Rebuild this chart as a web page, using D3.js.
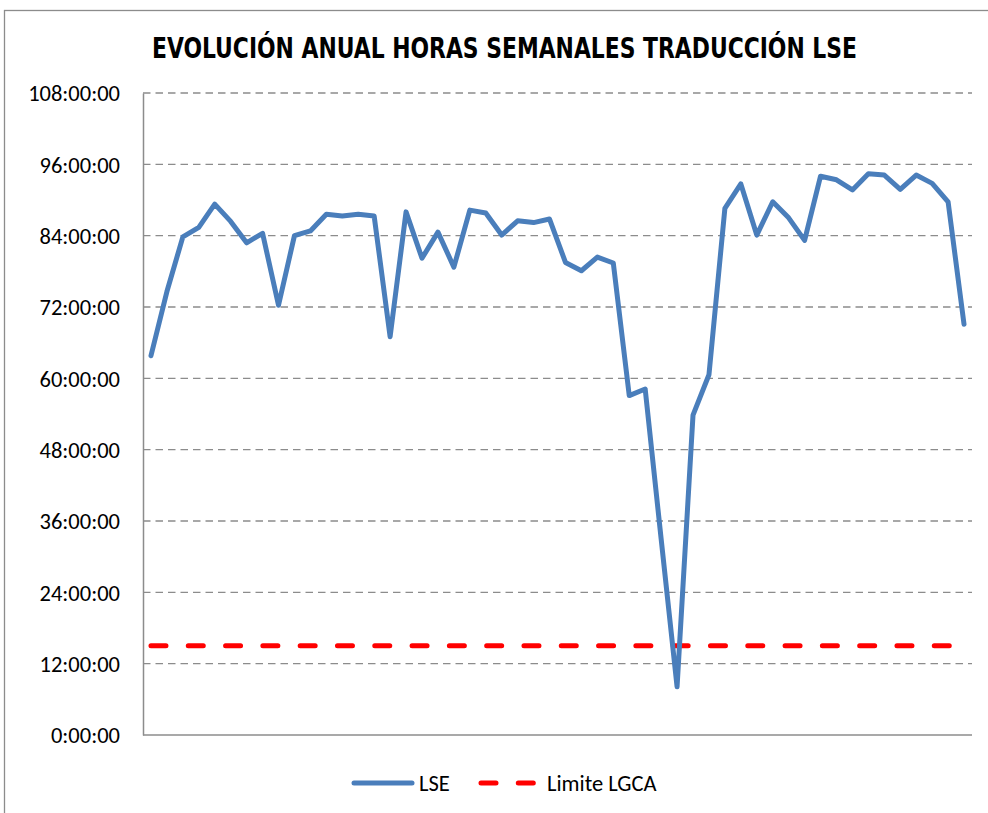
<!DOCTYPE html>
<html>
<head>
<meta charset="utf-8">
<script src="https://cdn.jsdelivr.net/npm/d3@7"></script>
<style>
  html, body { margin: 0; padding: 0; background: #fff; }
  svg { display: block; }
  .tick-label, .legend-label { font-family: Carlito, Lato, "Open Sans", sans-serif; font-size: 22.5px; fill: #000; }
  .title { font-family: "Liberation Sans Narrow", "DejaVu Sans Condensed", "Liberation Sans", sans-serif; font-weight: bold; font-size: 29px; fill: #000; }
</style>
</head>
<body>
<div id="chart"></div>
<script>
// semanas del año
const weeks = d3.range(1, 53);

// horas semanales LSE (horas decimales)
const lseHours = [
  63.8, 74.6, 83.8, 85.4, 89.3, 86.4, 82.8, 84.4, 72.3, 84.0,
  84.8, 87.6, 87.3, 87.6, 87.3, 67.0, 88.0, 80.2, 84.6, 78.7,
  88.3, 87.8, 84.1, 86.5, 86.2, 86.8, 79.5, 78.1, 80.4, 79.4,
  57.1, 58.2, 33.0, 8.1, 53.8, 60.6, 88.6, 92.7, 84.1, 89.7,
  87.0, 83.2, 94.0, 93.4, 91.7, 94.4, 94.2, 91.8, 94.2, 92.8,
  89.7, 69.1
];

// límite LGCA
const limiteHours = weeks.map(() => 15);

// marcas del eje y (horas)
const yTicks = [0, 12, 24, 36, 48, 60, 72, 84, 96, 108];

const titleText = "EVOLUCIÓN ANUAL HORAS SEMANALES TRADUCCIÓN LSE";
const seriesNames = ["LSE", "Limite LGCA"];

const width = 988, height = 813;
const plot = { left: 143, right: 972, top: 93, bottom: 735 };

const svg = d3.select("#chart").append("svg")
  .attr("width", width)
  .attr("height", height);

// marco del gráfico
svg.append("rect")
  .attr("x", 4.5).attr("y", 10.5)
  .attr("width", 1000).attr("height", 820)
  .attr("fill", "none")
  .attr("stroke", "#8c8c8c")
  .attr("stroke-width", 1.3);

svg.append("text")
  .attr("class", "title")
  .attr("x", 504.5)
  .attr("y", 58)
  .attr("text-anchor", "middle")
  .attr("textLength", 705)
  .attr("lengthAdjust", "spacingAndGlyphs")
  .text(titleText);

const x = d3.scalePoint()
  .domain(weeks)
  .range([plot.left, plot.right])
  .padding(0.5);

const y = d3.scaleLinear()
  .domain([0, 108])
  .range([plot.bottom, plot.top]);

const fmt = h => `${h}:00:00`;

// rejilla
svg.append("g")
  .selectAll("line")
  .data(yTicks.filter(d => d > 0))
  .join("line")
  .attr("x1", plot.left).attr("x2", plot.right)
  .attr("y1", d => y(d)).attr("y2", d => y(d))
  .attr("stroke", "#8c8c8c")
  .attr("stroke-width", 1.4)
  .attr("stroke-dasharray", "7.5,5");

// eje y
const yAxis = svg.append("g")
  .attr("transform", `translate(${plot.left},0)`)
  .call(d3.axisLeft(y).tickValues(yTicks).tickFormat(fmt).tickSize(0).tickPadding(23));
yAxis.select(".domain").attr("stroke", "#8c8c8c").attr("stroke-width", 1.5);
yAxis.selectAll("text")
  .attr("class", "tick-label")
  .attr("font-family", null).attr("font-size", null)
  .attr("dy", "0.35em");

// eje x (sin etiquetas)
svg.append("line")
  .attr("x1", plot.left).attr("x2", plot.right)
  .attr("y1", plot.bottom).attr("y2", plot.bottom)
  .attr("stroke", "#8c8c8c")
  .attr("stroke-width", 1.5);

const line = d3.line()
  .x((d, i) => x(weeks[i]))
  .y(d => y(d));

svg.append("path")
  .datum(limiteHours)
  .attr("d", line)
  .attr("fill", "none")
  .attr("stroke", "#ff0000")
  .attr("stroke-width", 5)
  .attr("stroke-linecap", "round")
  .attr("stroke-dasharray", "15,22.3");

svg.append("path")
  .datum(lseHours)
  .attr("d", line)
  .attr("fill", "none")
  .attr("stroke", "#4a7ebb")
  .attr("stroke-width", 5)
  .attr("stroke-linejoin", "round")
  .attr("stroke-linecap", "round");

// leyenda
const legend = svg.append("g").attr("transform", "translate(0,783)");
legend.append("line")
  .attr("x1", 354).attr("x2", 412)
  .attr("stroke", "#4a7ebb").attr("stroke-width", 5).attr("stroke-linecap", "round");
legend.append("text")
  .attr("class", "legend-label")
  .attr("x", 419).attr("dy", "0.35em")
  .text(seriesNames[0]);
legend.append("line")
  .attr("x1", 481).attr("x2", 534)
  .attr("stroke", "#ff0000").attr("stroke-width", 5).attr("stroke-linecap", "round")
  .attr("stroke-dasharray", "15,22.3");
legend.append("text")
  .attr("class", "legend-label")
  .attr("x", 547).attr("dy", "0.35em")
  .text(seriesNames[1]);
</script>
</body>
</html>
